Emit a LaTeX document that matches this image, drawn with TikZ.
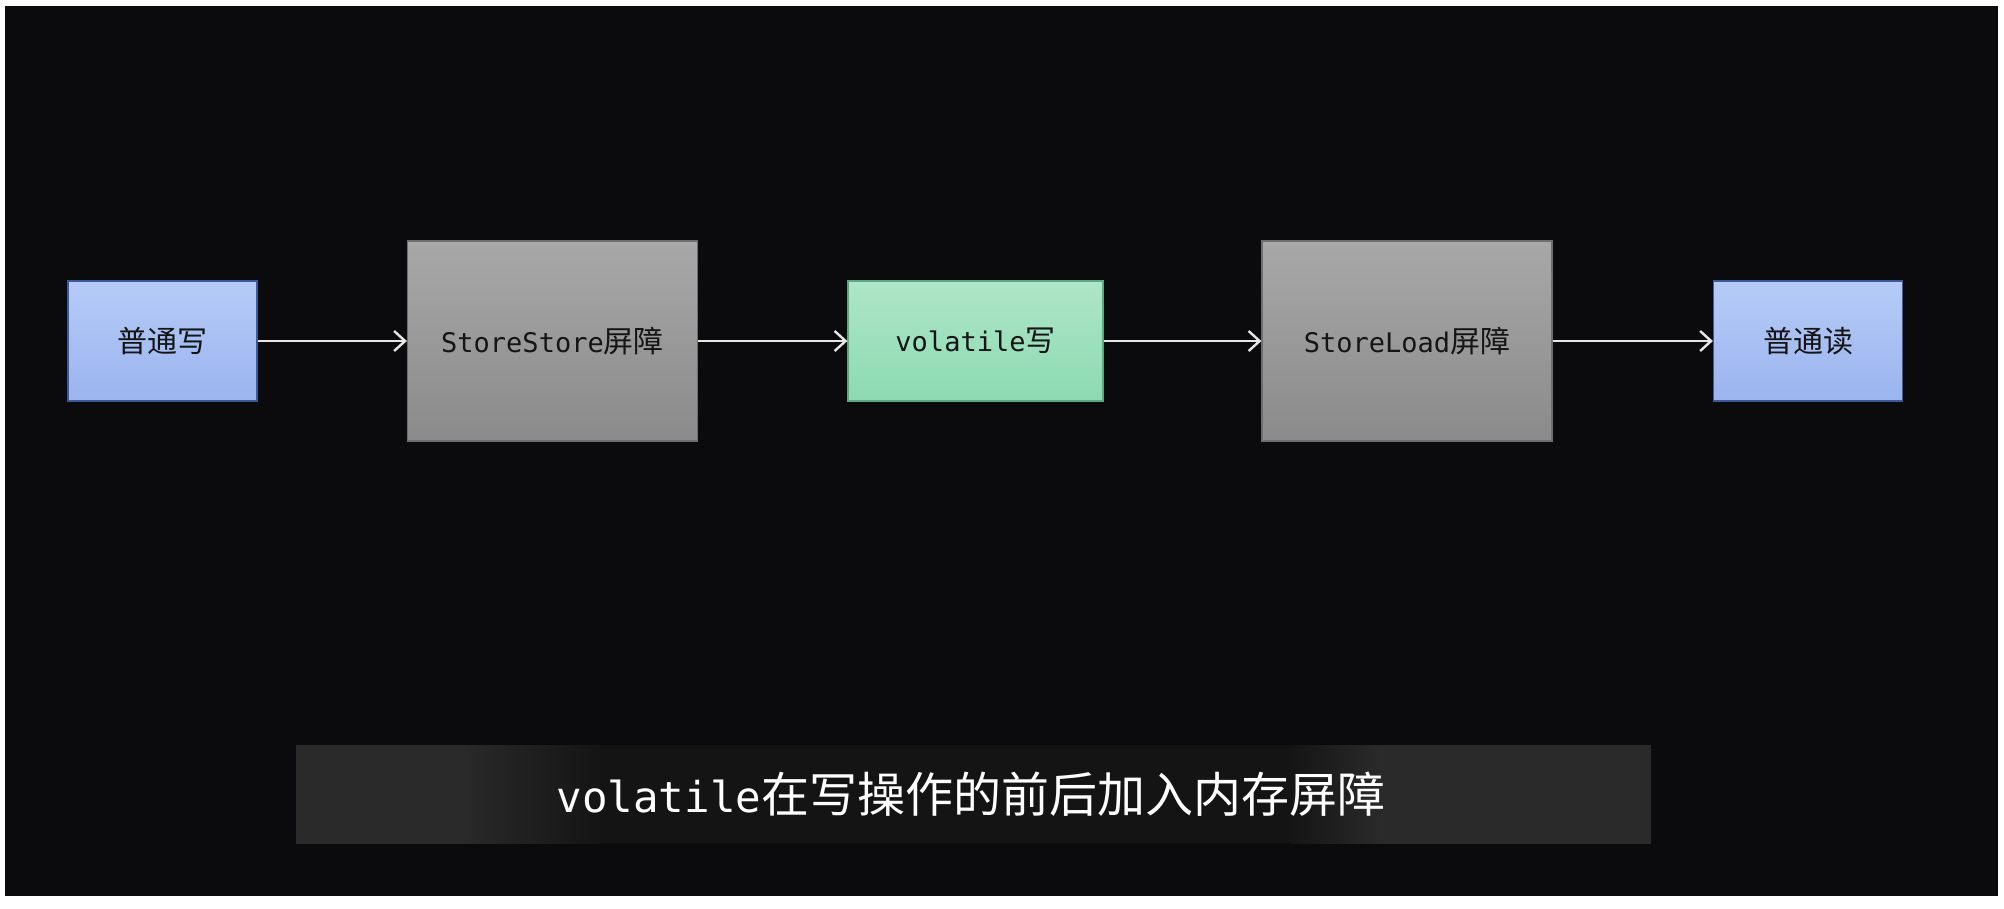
\documentclass[tikz,border=0pt]{standalone}
\usepackage{fontspec}
\newfontfamily\cjk{Noto Sans CJK SC}
\newfontfamily\lat{DejaVu Sans Mono}
\usetikzlibrary{arrows.meta}
\definecolor{bgdark}{HTML}{0B0B0D}
\definecolor{bandgray}{HTML}{2A2A2A}
\definecolor{bluetop}{HTML}{B6CBF7}
\definecolor{bluebot}{HTML}{9AB4EE}
\definecolor{blueedge}{HTML}{3C5A9A}
\definecolor{graytop}{HTML}{A8A8A8}
\definecolor{graybot}{HTML}{8A8A8A}
\definecolor{grayedge}{HTML}{6E6E6E}
\definecolor{greentop}{HTML}{AEE6C8}
\definecolor{greenbot}{HTML}{8CDAB2}
\definecolor{greenedge}{HTML}{5FA684}
\definecolor{txtdark}{HTML}{151515}
\definecolor{arrowcol}{HTML}{E6E6E6}
\newcommand{\boxfont}[2]{{\lat\fontsize{27}{30}\selectfont #1}{\cjk\fontsize{30}{30}\selectfont #2}}
\tikzset{
  basebox/.style={rectangle, inner sep=0pt, line width=1.2pt, text=txtdark, align=center},
  bluebox/.style={basebox, minimum width=189pt, minimum height=120pt, top color=bluetop, bottom color=bluebot, draw=blueedge},
  graybox/.style={basebox, minimum width=290pt, minimum height=200pt, top color=graytop, bottom color=graybot, draw=grayedge},
  greenbox/.style={basebox, minimum width=255pt, minimum height=120pt, top color=greentop, bottom color=greenbot, draw=greenedge},
  conn/.style={draw=arrowcol, line width=2.4pt, -{Straight Barb[length=11pt, width=20pt, line width=2.4pt]}},
  caption/.style={text=white, inner sep=0pt}
}
\begin{document}
\begin{tikzpicture}[x=1pt, y=-1pt]
  \useasboundingbox (0,0) rectangle (2004,908);
  \fill[white] (0,0) rectangle (2004,908);
  \fill[bgdark] (5,6) rectangle (1998,896);
  % caption band
  \fill[black!92!white] (296,745) rectangle (1651,843);
  \shade[left color=bandgray, right color=bandgray] (296,745) rectangle (460,843);
  \shade[left color=bandgray, right color=black!92!white] (460,745) rectangle (600,843);
  \shade[left color=black!92!white, right color=bandgray] (1290,745) rectangle (1380,843);
  \shade[left color=bandgray, right color=bandgray] (1380,745) rectangle (1651,843);
  % boxes
  \node[bluebox]  (w)  at (162.5,341) {{\cjk\fontsize{30}{30}\selectfont 普通写}};
  \node[graybox]  (ss) at (552.5,341) {\boxfont{StoreStore}{屏障}};
  \node[greenbox] (vw) at (975.5,341) {\boxfont{volatile}{写}};
  \node[graybox]  (sl) at (1407,341)  {\boxfont{StoreLoad}{屏障}};
  \node[bluebox]  (r)  at (1808,341)  {{\cjk\fontsize{30}{30}\selectfont 普通读}};
  % connectors
  \draw[conn] (w.east) -- (ss.west);
  \draw[conn] (ss.east) -- (vw.west);
  \draw[conn] (vw.east) -- (sl.west);
  \draw[conn] (sl.east) -- (r.west);
  % caption
  \node[caption] (cap) at (971,794) {{\lat\fontsize{42.5}{50}\selectfont volatile}{\cjk\fontsize{48}{50}\selectfont 在写操作的前后加入内存屏障}};
\end{tikzpicture}
\end{document}
